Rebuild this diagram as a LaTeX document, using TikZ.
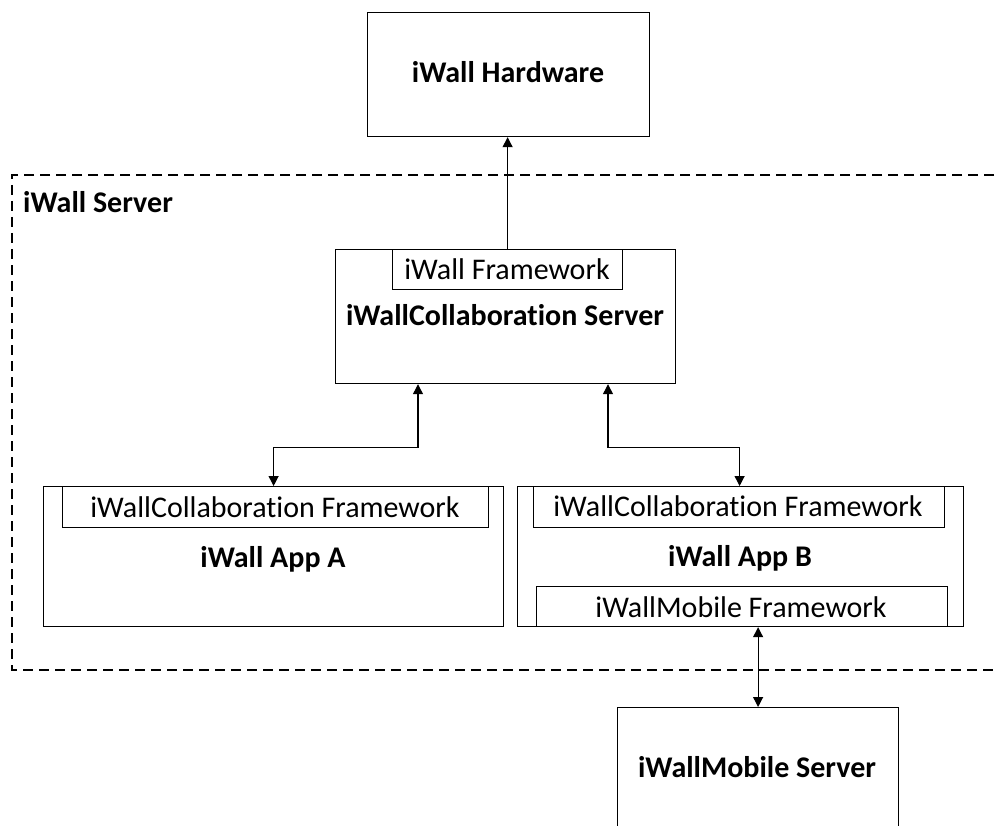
\documentclass[tikz,border=0pt]{standalone}
\usepackage{fontspec}
\setmainfont{Carlito}[Ligatures={NoCommon}]
\usetikzlibrary{arrows.meta,calc}
\newcommand{\collab}{Collaborat\kern0pt ion}
\begin{document}
\begin{tikzpicture}[x=1pt,y=-1pt,
  box/.style={draw, line width=1.2pt, rectangle, inner sep=0pt, anchor=north west},
  bold/.style={font=\fontsize{30}{36}\selectfont\bfseries, anchor=base, inner sep=0pt},
  plain/.style={font=\fontsize{30}{36}\selectfont, anchor=base, inner sep=0pt},
  conn/.style={line width=1.2pt, {Triangle[length=10pt,width=10pt]}-{Triangle[length=10pt,width=10pt]}},
  conn1/.style={line width=1.2pt, -{Triangle[length=10pt,width=10pt]}},
  group/.style={line width=1.2pt, dash pattern=on 10pt off 6pt}
]
\clip (0,0) rectangle (995,826);
\fill[white] (0,0) rectangle (995,826);

% dashed iWall Server region (right side off the picture)
\draw[group] (1010,175) -- (12,175) -- (12,670) -- (1010,670);
\node[font=\fontsize{30}{36}\selectfont\bfseries, anchor=base west, inner sep=0pt] (srvlbl) at (23,213) {iWall Server};

% iWall Hardware
\node[box, minimum width=282pt, minimum height=124pt] (hw) at (367,12) {};
\node[bold] (hwt) at (508,83) {iWall Hardware};

% iWallCollaboration Server
\node[box, minimum width=340pt, minimum height=134pt] (cs) at (335,249) {};
\node[box, minimum width=230pt, minimum height=40pt] (cfw) at (392,249) {};
\node[plain] (cfwt) at (507,279) {iWall Framework};
\node[bold] (cst) at (505,325) {iWall\collab{} Server};

% iWall App A
\node[box, minimum width=460pt, minimum height=140pt] (appA) at (43,486) {};
\node[box, minimum width=426pt, minimum height=41pt] (afw) at (62,486) {};
\node[plain] (afwt) at (275,517) {iWall\collab{} Framework};
\node[bold] (appAt) at (273,567) {iWall App A};

% iWall App B
\node[box, minimum width=446pt, minimum height=140pt] (appB) at (517,486) {};
\node[box, minimum width=411pt, minimum height=41pt] (bfw) at (533,486) {};
\node[plain] (bfwt) at (738,516) {iWall\collab{} Framework};
\node[bold] (appBt) at (740,566) {iWall App B};
\node[box, minimum width=411pt, minimum height=40pt] (mfw) at (536,586) {};
\node[plain] (mfwt) at (741,617) {iWallMobile Framework};

% iWallMobile Server
\node[box, minimum width=281pt, minimum height=124pt] (ms) at (617,707) {};
\node[bold] (mst) at (757,777) {iWallMobile Server};

% connectors
\draw[conn1] (cfw.north) -- (cfw.north |- hw.south);
\coordinate (csL) at ($(cs.south west)+(83,0)$);
\coordinate (csR) at ($(cs.south west)+(273,0)$);
\draw[conn] (csL) -- ++(0,63) -| (appA.north);
\draw[conn] (csR) -- ++(0,63) -| ($(appB.north)+(-1,0)$);
\draw[conn] (mfw.south -| ms.north) -- (ms.north);
\end{tikzpicture}
\end{document}
